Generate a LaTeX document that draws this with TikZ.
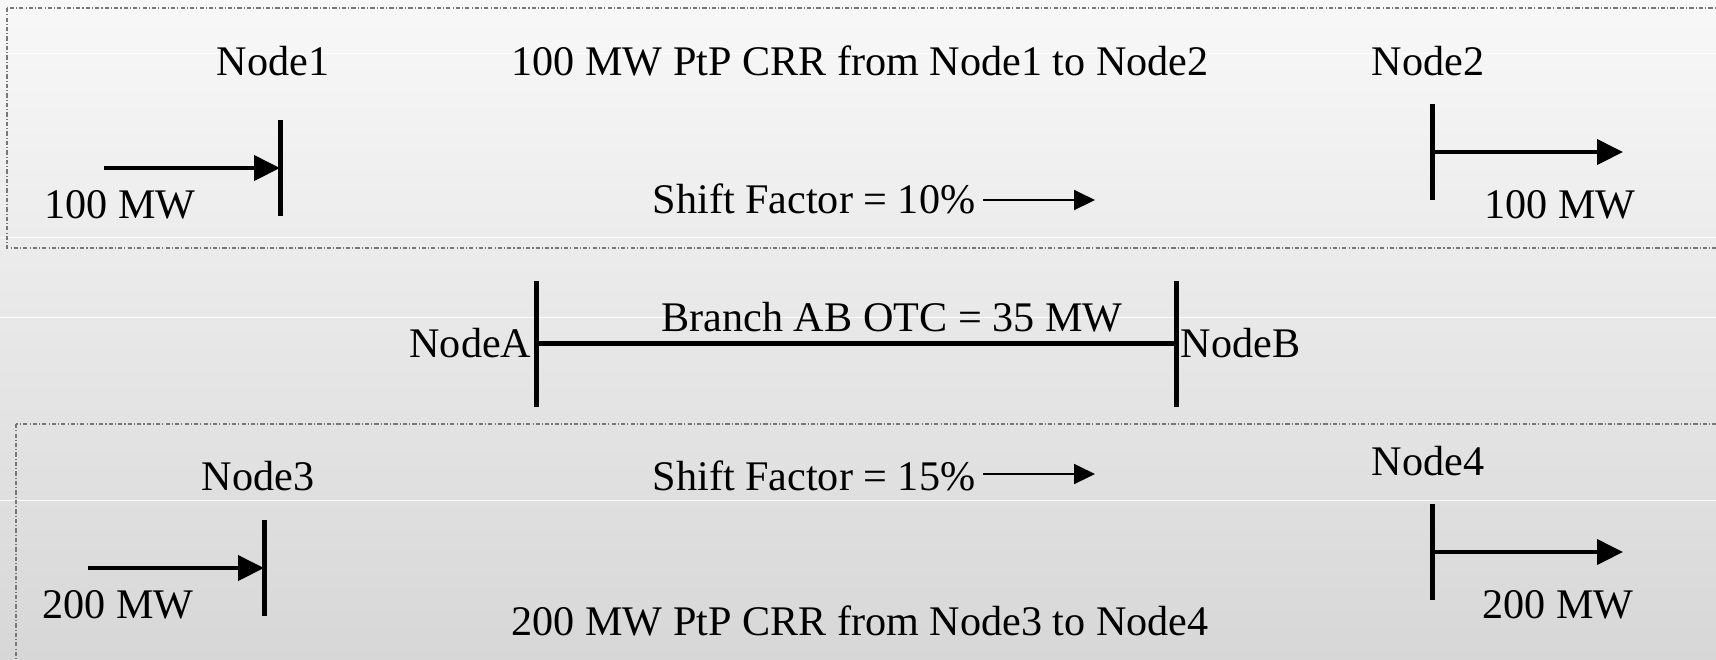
\documentclass[tikz,border=0pt]{standalone}
\usepackage{fontspec}
\setmainfont{Liberation Serif}
\usepackage{xcolor}
\usepackage{tikz}
\usetikzlibrary{arrows.meta}

\definecolor{bgtop}{RGB}{248,248,248}
\definecolor{bgbot}{RGB}{215,215,215}
\definecolor{boxline}{RGB}{120,120,120}

\begin{document}
\begin{tikzpicture}[x=0.1mm,y=-0.1mm,
    lbl/.style={inner sep=0pt,anchor=base,font=\fontsize{12}{14}\selectfont},
    bus/.style={line width=0.5mm},
    flow/.style={line width=0.4mm,-{Triangle[length=2.6mm,width=2.5mm]}},
    flowthin/.style={line width=0.2mm,-{Triangle[length=2.1mm,width=2mm]}},
    frame/.style={draw=boxline,line width=0.4pt,dash pattern=on 1.2pt off 0.6pt on 0.3pt off 0.6pt},
    band/.style={draw=white,line width=0.1mm}]
            \clip (0,0) rectangle (1716,659);
            \shade[top color=bgtop,bottom color=bgbot] (0,0) rectangle (1716,659);
            \draw[band] (0,53) -- (1716,53);
            \draw[band] (0,237) -- (1716,237);
            \draw[band] (0,317) -- (1716,317);
            \draw[band] (0,500) -- (1716,500);

            \draw[frame] (7,8) rectangle (1730,248);
            \draw[frame] (16,424) rectangle (1730,680);

            \node[lbl] (node1) at (273,75) {Node1};
            \node[lbl] (crr1) at (860,75) {100 MW PtP CRR from Node1 to Node2};
            \node[lbl] (node2) at (1428,75) {Node2};
            \node[lbl] (mw1) at (120,218) {100 MW};
            \node[lbl] (mw2) at (1560,218) {100 MW};
            \node[lbl] (sf1) at (814,213) {Shift Factor = 10\%};

            \coordinate (n1t) at (280,120);
            \coordinate (n1b) at (280,216);
            \coordinate (n2t) at (1432,104);
            \coordinate (n2b) at (1432,200);
            \coordinate (in1) at (104,168);
            \coordinate (out2) at (1623,152);
            \coordinate (sf1a) at (983,200);
            \coordinate (sf1b) at (1095,200);
            \draw[bus] (n1t) -- (n1b);
            \draw[bus] (n2t) -- (n2b);
            \draw[flow] (in1) -- (in1 -| n1t);
            \draw[flow] (out2 -| n2t) -- (out2);
            \draw[flowthin] (sf1a) -- (sf1b);

            \node[lbl] (otc) at (892,331) {Branch AB OTC = 35 MW};
            \node[lbl,anchor=base east] (nodeA) at (532,357) {NodeA};
            \node[lbl,anchor=base west] (nodeB) at (1180,357) {NodeB};
            \coordinate (at) at (536,281);
            \coordinate (ab) at (536,407);
            \coordinate (bt) at (1176,281);
            \coordinate (bb) at (1176,407);
            \coordinate (al) at (536,343);
            \draw[bus] (at) -- (ab);
            \draw[bus] (bt) -- (bb);
            \draw[bus] (al) -- (al -| bt);

            \node[lbl] (node3) at (258,490) {Node3};
            \node[lbl] (sf2) at (814,490) {Shift Factor = 15\%};
            \node[lbl] (node4) at (1428,475) {Node4};
            \node[lbl] (mw3) at (118,618) {200 MW};
            \node[lbl] (mw4) at (1558,618) {200 MW};
            \node[lbl] (crr2) at (860,635) {200 MW PtP CRR from Node3 to Node4};

            \coordinate (n3t) at (264,520);
            \coordinate (n3b) at (264,616);
            \coordinate (n4t) at (1432,504);
            \coordinate (n4b) at (1432,600);
            \coordinate (in3) at (88,568);
            \coordinate (out4) at (1623,552);
            \coordinate (sf2a) at (983,474);
            \coordinate (sf2b) at (1095,474);
            \draw[bus] (n3t) -- (n3b);
            \draw[bus] (n4t) -- (n4b);
            \draw[flow] (in3) -- (in3 -| n3t);
            \draw[flow] (out4 -| n4t) -- (out4);
            \draw[flowthin] (sf2a) -- (sf2b);
        \end{tikzpicture}
\end{document}
